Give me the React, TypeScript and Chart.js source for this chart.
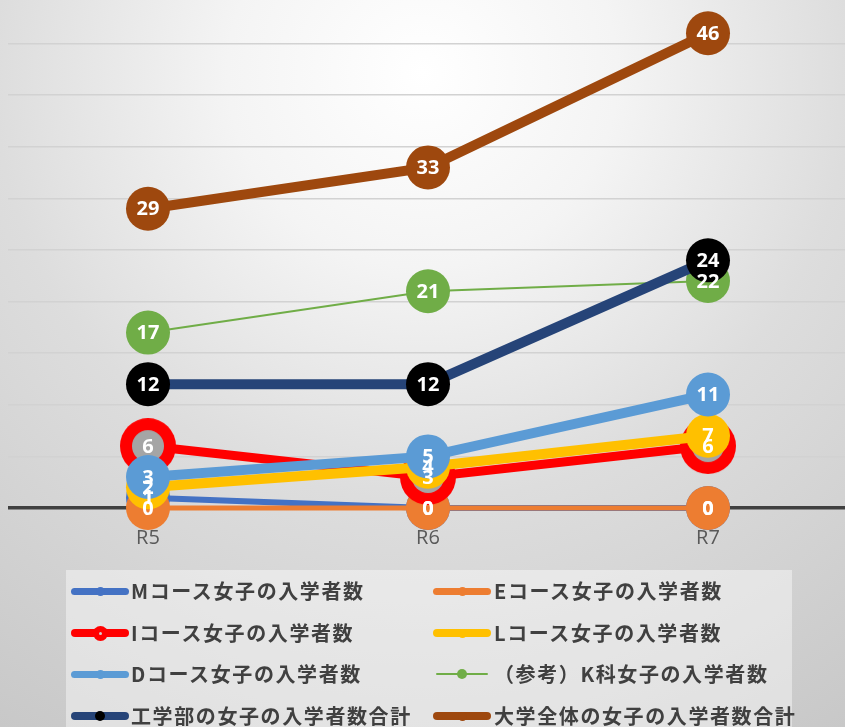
import React, { useEffect, useRef } from "react";
import { Chart, registerables } from "chart.js";

Chart.register(...registerables);

const categories = ["R5", "R6", "R7"];
const mCourse = [1, 0, 0];
const eCourse = [0, 0, 0];
const iCourse = [6, 3, 6];
const lCourse = [2, 4, 7];
const dCourse = [3, 5, 11];
const kDept = [17, 21, 22];
const engTotal = [12, 12, 24];
const univTotal = [29, 33, 46];

const seriesNames = [
  "Mコース女子の入学者数",
  "Eコース女子の入学者数",
  "Iコース女子の入学者数",
  "Lコース女子の入学者数",
  "Dコース女子の入学者数",
  "（参考）K科女子の入学者数",
  "工学部の女子の入学者数合計",
  "大学全体の女子の入学者数合計",
];

const yMin = 0;
const yMax = 50;
const yStep = 5;

function makeIMarker(): HTMLCanvasElement {
  const c = document.createElement("canvas");
  c.width = 56;
  c.height = 56;
  const g = c.getContext("2d")!;
  g.fillStyle = "#FF0000";
  g.beginPath();
  g.arc(28, 28, 28, 0, Math.PI * 2);
  g.fill();
  g.fillStyle = "#A5A5A5";
  g.beginPath();
  g.arc(28, 28, 16, 0, Math.PI * 2);
  g.fill();
  return c;
}

const labelPlugin = {
  id: "circleLabels",
  afterDatasetsDraw(chart: any) {
    const ctx = chart.ctx;
    ctx.save();
    ctx.font = 'bold 20px "Noto Sans", sans-serif';
    ctx.fillStyle = "#ffffff";
    ctx.textAlign = "center";
    ctx.textBaseline = "middle";
    chart.data.datasets.forEach((ds: any, i: number) => {
      const meta = chart.getDatasetMeta(i);
      meta.data.forEach((pt: any, j: number) => {
        ctx.fillText(String(ds.data[j]), pt.x, pt.y + 1);
      });
    });
    ctx.restore();
  },
};

type LegendItem = {
  name: string;
  color: string;
  marker: string;
  lw: number;
  md: number;
  col: number;
  row: number;
  inner?: boolean;
  short?: boolean;
};

const legendItems: LegendItem[] = [
  { name: seriesNames[0], color: "#4472C4", marker: "#4472C4", lw: 7, md: 9, col: 0, row: 0 },
  { name: seriesNames[1], color: "#ED7D31", marker: "#ED7D31", lw: 7, md: 9, col: 1, row: 0 },
  { name: seriesNames[2], color: "#FF0000", marker: "#FF0000", lw: 8, md: 15, col: 0, row: 1, inner: true },
  { name: seriesNames[3], color: "#FFC000", marker: "#FFC000", lw: 8, md: 9, col: 1, row: 1 },
  { name: seriesNames[4], color: "#5B9BD5", marker: "#5B9BD5", lw: 7, md: 9, col: 0, row: 2 },
  { name: seriesNames[5], color: "#70AD47", marker: "#70AD47", lw: 2, md: 10, col: 1, row: 2, short: true },
  { name: seriesNames[6], color: "#264478", marker: "#000000", lw: 8, md: 10, col: 0, row: 3 },
  { name: seriesNames[7], color: "#9E480E", marker: "#9E480E", lw: 8, md: 9, col: 1, row: 3 },
];

export default function App() {
  const ref = useRef<HTMLCanvasElement | null>(null);

  useEffect(() => {
    if (!ref.current) return;
    const iMarker = makeIMarker();
    const mk = (
      label: string,
      data: number[],
      color: string,
      lw: number,
      idx: number,
      markerColor?: string,
      radius = 22
    ) => ({
      label,
      data,
      borderColor: color,
      borderWidth: lw,
      backgroundColor: markerColor || color,
      pointBackgroundColor: markerColor || color,
      pointBorderWidth: 0,
      pointRadius: radius,
      pointHoverRadius: radius,
      pointStyle: "circle" as any,
      tension: 0,
      clip: false as any,
      order: -idx,
      borderCapStyle: "round" as any,
    });
    const datasets: any[] = [
      mk(seriesNames[0], mCourse, "#4472C4", 6, 0),
      mk(seriesNames[1], eCourse, "#ED7D31", 5, 1),
      { ...mk(seriesNames[2], iCourse, "#FF0000", 9, 2), pointStyle: iMarker, pointRadius: 28 },
      mk(seriesNames[3], lCourse, "#FFC000", 10, 3),
      mk(seriesNames[4], dCourse, "#5B9BD5", 10, 4),
      mk(seriesNames[5], kDept, "#70AD47", 2, 5),
      mk(seriesNames[6], engTotal, "#264478", 10, 6, "#000000"),
      mk(seriesNames[7], univTotal, "#9E480E", 10, 7),
    ];
    const chart = new Chart(ref.current, {
      type: "line",
      data: { labels: categories, datasets },
      options: {
        animation: false,
        responsive: false,
        maintainAspectRatio: false,
        devicePixelRatio: 1,
        layout: { autoPadding: false, padding: 0 } as any,
        plugins: {
          legend: { display: false },
          tooltip: { enabled: false },
        },
        scales: {
          x: {
            offset: true,
            grid: { display: false, drawTicks: false },
            border: { display: false },
            ticks: {
              color: "#595959",
              font: { size: 20, family: '"Open Sans", sans-serif' },
              padding: 18,
            },
          },
          y: {
            min: yMin,
            max: yMax,
            ticks: { stepSize: yStep, display: false },
            border: { display: false },
            grid: {
              drawTicks: false,
              color: (c: any) => (c.tick && c.tick.value === 0 ? "#404040" : "#d2d2d2"),
              lineWidth: (c: any) => (c.tick && c.tick.value === 0 ? 3.5 : 1.5),
            },
          },
        },
      },
      plugins: [labelPlugin],
    });
    return () => chart.destroy();
  }, []);

  const colX = [71, 433];
  const textX = [131, 494];
  const rowY = [591, 633, 674, 716];

  return (
    <div
      style={{
        position: "fixed",
        left: 0,
        top: 0,
        width: 845,
        height: 727,
        overflow: "hidden",
        background:
          "radial-gradient(circle farthest-corner at 50% 10%, #ffffff 0%, #f4f4f4 25%, #dddddd 55%, #c8c8c8 100%)",
      }}
    >
      <canvas
        ref={ref}
        width={840}
        height={576}
        style={{ position: "absolute", left: 8, top: -8, width: 840, height: 576 }}
      />
      <div
        style={{
          position: "absolute",
          left: 66,
          top: 570,
          width: 726,
          height: 170,
          background: "rgba(255,255,255,0.42)",
        }}
      />
      {legendItems.map((it, k) => {
        const x0 = it.short ? colX[it.col] + 3 : colX[it.col];
        const w = it.short ? 52 : 58;
        const cy = rowY[it.row];
        return (
          <React.Fragment key={k}>
            <div
              style={{
                position: "absolute",
                left: x0,
                top: cy - it.lw / 2,
                width: w,
                height: it.lw,
                borderRadius: it.lw / 2,
                background: it.color,
              }}
            />
            <div
              style={{
                position: "absolute",
                left: x0 + w / 2 - it.md / 2,
                top: cy - it.md / 2,
                width: it.md,
                height: it.md,
                borderRadius: "50%",
                background: it.marker,
              }}
            />
            {it.inner ? (
              <div
                style={{
                  position: "absolute",
                  left: x0 + w / 2 - 1.5,
                  top: cy - 1.5,
                  width: 3,
                  height: 3,
                  borderRadius: "50%",
                  background: "#d0d0d0",
                }}
              />
            ) : null}
            <div
              style={{
                position: "absolute",
                left: textX[it.col],
                top: cy - 14,
                height: 28,
                lineHeight: "28px",
                whiteSpace: "nowrap",
                fontFamily: '"Noto Sans CJK JP", "Noto Sans", sans-serif',
                fontWeight: 700,
                fontSize: 20,
                letterSpacing: "1.6px",
                color: "#404040",
              }}
            >
              {it.name}
            </div>
          </React.Fragment>
        );
      })}
    </div>
  );
}
